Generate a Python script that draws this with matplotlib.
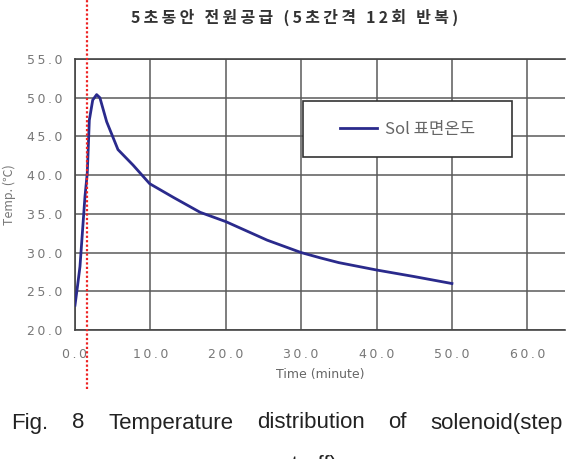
import matplotlib
matplotlib.use("Agg")
import matplotlib.pyplot as plt
from matplotlib.patches import Rectangle

# data
time_min = [0, 0.35, 0.66, 1.32, 1.63, 1.9, 2.35, 2.87, 3.3, 4.2, 5.7, 7.7,
            9.9, 13.1, 16.6, 20.0, 25.5, 30.0, 32.6, 35.0, 40.0, 45.0, 50.0]
temp_c = [23.2, 25.8, 28.2, 37.2, 40.3, 47.1, 49.7, 50.4, 50.0, 46.9, 43.3, 41.3,
          38.9, 37.1, 35.2, 34.0, 31.6, 30.0, 29.3, 28.7, 27.75, 26.9, 26.0]
x_ticks = [0, 10, 20, 30, 40, 50, 60]
y_ticks = [20, 25, 30, 35, 40, 45, 50, 55]
marker_time = 1.6  # red dotted mark (end of power supply)

title = "5초동안 전원공급 (5초간격 12회 반복)"
legend_label = "Sol 표면온도"
caption_words = ["Fig.", "8", "Temperature", "distribution", "of", "solenoid(step"]

KR = ["Noto Sans CJK KR", "DejaVu Sans"]
TS = "\u2009"  # thin space for letter spacing


def spaced(s):
    return TS.join(s)


fig = plt.figure(figsize=(5.66, 4.59), dpi=100)
ax = fig.add_axes([75 / 566, 129 / 459, 490 / 566, 271 / 459])

ax.plot(time_min, temp_c, color="#2a2a8c", lw=2.0, label=legend_label, zorder=3)

ax.set_xlim(0, 65)
ax.set_ylim(20, 55)
ax.set_xticks(x_ticks)
ax.set_yticks(y_ticks)
ax.set_xticklabels([spaced(f"{v:.1f}") for v in x_ticks], color="#777777", fontsize=9)
ax.set_yticklabels([spaced(f"{v:.1f}") for v in y_ticks], color="#777777", fontsize=9)
ax.tick_params(length=0)
ax.tick_params(axis="x", pad=13)
ax.tick_params(axis="y", pad=9)
ax.grid(True, color="#5a5a5a", lw=1.1)
ax.set_axisbelow(True)
for s in ["left", "bottom", "top"]:
    ax.spines[s].set_color("#444444")
    ax.spines[s].set_linewidth(1.2)
ax.spines["right"].set_visible(False)

ax.set_xlabel("Time (minute)", color="#666666", fontsize=9, labelpad=5)
ax.set_ylabel("Temp. (℃)", color="#777777", fontsize=9, family=KR, labelpad=8)

# legend box
ax.add_patch(Rectangle((0.465, 0.638), 0.427, 0.207, transform=ax.transAxes,
                       facecolor="white", edgecolor="#333333", lw=1.2, zorder=4))
leg = ax.legend(loc="center", bbox_to_anchor=(0.465 + 0.427 / 2, 0.638 + 0.207 / 2),
                frameon=False, handlelength=2.2, handletextpad=0.5,
                prop={"family": KR, "size": 12})
leg.set_zorder(5)
for t in leg.get_texts():
    t.set_color("#666666")

# red dotted marker line running beyond the plot
ax.plot([marker_time, marker_time], [-0.218, 1.218], transform=ax.get_xaxis_transform(),
        color="#ee2222", lw=1.6, ls=(0, (1, 1)), clip_on=False, zorder=6)

fig.text(295 / 566, 1 - 17 / 459, spaced(title), ha="center", va="center",
         fontsize=11.5, fontweight="bold", color="#333333", family=KR)

# caption, justified by hand between 11 px and 563 px
cap_texts = [fig.text(0, 1 - 423 / 459, w, ha="left", va="center", fontsize=16,
                      color="#222222", family="Liberation Sans") for w in caption_words]
renderer = fig.canvas.get_renderer()
widths = [t.get_window_extent(renderer).width for t in cap_texts]
gap = (563 - 11 - sum(widths)) / (len(widths) - 1)
px = 11
for t, w in zip(cap_texts, widths):
    t.set_x(px / 566)
    px += w + gap
fig.text(268 / 566, 1 - 465 / 459, "cut-off)", ha="left", va="center", fontsize=16,
         color="#222222", family="Liberation Sans")

fig.savefig("out.png", dpi=100)
